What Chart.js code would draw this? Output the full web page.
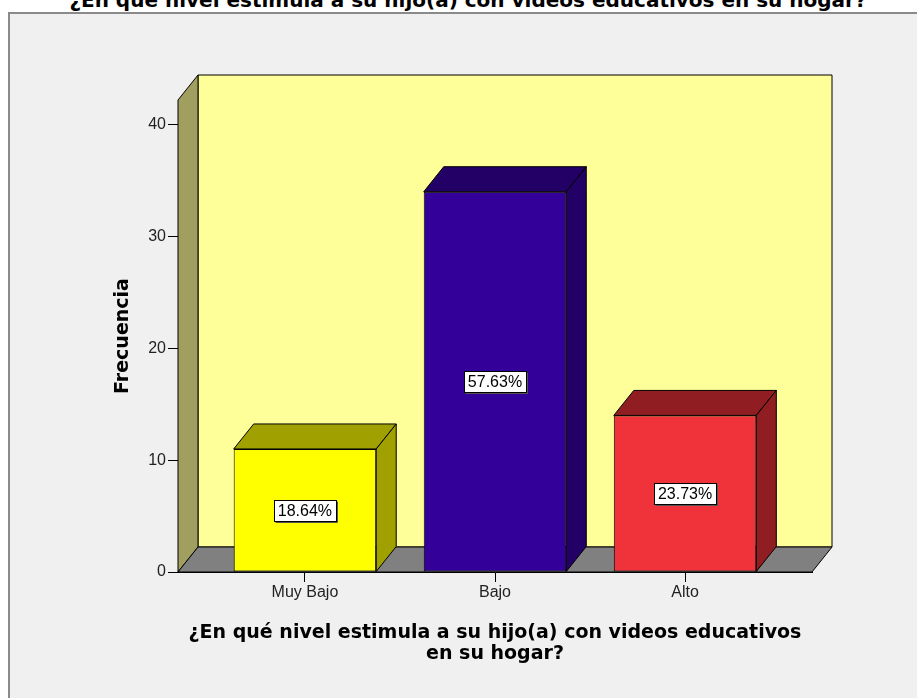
<!DOCTYPE html>
<html>
<head>
<meta charset="utf-8">
<script src="https://cdn.jsdelivr.net/npm/chart.js@4.4.1/dist/chart.umd.min.js"></script>
<style>
  body { margin: 0; background: #fff; overflow: hidden; }
  #frame { position: absolute; left: 8px; top: 12px; width: 1000px; height: 800px;
           border: 2px solid #8a8a8a; background: #f0f0f0; }
  #topTitle { position: absolute; left: 0; width: 936px; top: -10px; text-align: center;
              font: bold 20px "DejaVu Sans"; line-height: 20px; white-space: nowrap; color: #000; }
  #wrap { position: absolute; left: 0; top: 0; width: 917px; height: 698px; }
</style>
</head>
<body>
<div id="frame"></div>
<div id="topTitle">¿En qué nivel estimula a su hijo(a) con videos educativos en su hogar?</div>
<div id="wrap"><canvas id="chart" width="917" height="698"></canvas></div>
<script>
// values
const categories = ["Muy Bajo", "Bajo", "Alto"];
const frecuencia = [11, 34, 14];
const porcentajes = ["18.64%", "57.63%", "23.73%"];
const yTicks = [0, 10, 20, 30, 40];

// colours
const frontColors = ["#ffff00", "#330099", "#f0323a"];
const shadeColors = ["#a0a000", "#220066", "#8f1d21"];

// depth of the fake 3D box
const DX = 20, DY = -25;

function poly(ctx, pts, fill) {
  ctx.beginPath();
  ctx.moveTo(pts[0][0], pts[0][1]);
  for (let i = 1; i < pts.length; i++) ctx.lineTo(pts[i][0], pts[i][1]);
  ctx.closePath();
  ctx.fillStyle = fill;
  ctx.fill();
  ctx.strokeStyle = "#000";
  ctx.lineWidth = 1;
  ctx.stroke();
}

const box3d = {
  id: "box3d",
  beforeDatasetsDraw(chart) {
    const ctx = chart.ctx, a = chart.chartArea;
    const y0 = chart.scales.y.getPixelForValue(0);
    const top = a.top;
    ctx.save();
    // back wall
    poly(ctx, [[a.left + DX, top + DY], [a.right + DX, top + DY], [a.right + DX, y0 + DY], [a.left + DX, y0 + DY]], "#ffff99");
    // left wall
    poly(ctx, [[a.left, y0], [a.left, top], [a.left + DX, top + DY], [a.left + DX, y0 + DY]], "#a09f60");
    // floor
    poly(ctx, [[a.left, y0], [a.left + DX, y0 + DY], [a.right + DX, y0 + DY], [a.right, y0]], "#808080");
    ctx.restore();
  },
  afterDatasetsDraw(chart) {
    const ctx = chart.ctx;
    const meta = chart.getDatasetMeta(0);
    ctx.save();
    meta.data.forEach((bar, i) => {
      const p = bar.getProps(["x", "y", "base", "width"], true);
      const l = p.x - p.width / 2, r = p.x + p.width / 2;
      // top face
      poly(ctx, [[l, p.y], [l + DX, p.y + DY], [r + DX, p.y + DY], [r, p.y]], shadeColors[i]);
      // side face
      poly(ctx, [[r, p.y], [r + DX, p.y + DY], [r + DX, p.base + DY], [r, p.base]], shadeColors[i]);
      // percentage label
      ctx.font = "16px 'Liberation Sans'";
      const tw = ctx.measureText(porcentajes[i]).width;
      const bw = Math.round(tw + 8), bh = 21;
      const cx = p.x, cy = (p.y + p.base) / 2;
      const bx = Math.round(cx - bw / 2) + 0.5, by = Math.round(cy - bh / 2) + 0.5;
      ctx.fillStyle = "#fff";
      ctx.fillRect(bx, by, bw, bh);
      ctx.strokeStyle = "#000";
      ctx.lineWidth = 1;
      ctx.strokeRect(bx, by, bw, bh);
      ctx.strokeStyle = "#555";
      ctx.beginPath();
      ctx.moveTo(bx + 1, by + bh + 1);
      ctx.lineTo(bx + bw + 1, by + bh + 1);
      ctx.lineTo(bx + bw + 1, by + 1);
      ctx.stroke();
      ctx.fillStyle = "#000";
      ctx.textAlign = "center";
      ctx.textBaseline = "middle";
      ctx.fillText(porcentajes[i], cx, cy + 1);
    });
    ctx.restore();
  }
};

new Chart(document.getElementById("chart"), {
  type: "bar",
  data: {
    datasets: [{
      label: "Frecuencia",
      data: frecuencia.map((v, i) => ({ x: i, y: v })),
      backgroundColor: frontColors,
      borderColor: "#000",
      borderWidth: 1,
      borderSkipped: false,
      categoryPercentage: 1,
      barPercentage: 0.75
    }]
  },
  options: {
    responsive: false,
    animation: false,
    devicePixelRatio: 1,
    layout: { padding: { left: 0, top: 100, right: 105, bottom: 0 } },
    plugins: { legend: { display: false }, tooltip: { enabled: false } },
    scales: {
      x: {
        type: "linear",
        position: "bottom",
        offset: false,
        min: -0.668,
        max: 2.668,
        afterBuildTicks: s => { s.ticks = categories.map((c, i) => ({ value: i })); },
        afterFit: s => { s.height = 126; },
        ticks: {
          callback: v => categories[v],
          color: "#222",
          font: { family: "Liberation Sans", size: 16 },
          padding: 1,
          maxRotation: 0
        },
        grid: { offset: false, drawOnChartArea: false, drawTicks: true, tickLength: 10, color: "#000" },
        border: { display: true, color: "#000" },
        title: {
          display: true,
          text: ["¿En qué nivel estimula a su hijo(a) con videos educativos", "en su hogar?"],
          color: "#000",
          font: { family: "DejaVu Sans", size: 19, weight: "bold", lineHeight: 1.12 },
          padding: { top: 0, bottom: 33 }
        }
      },
      y: {
        min: 0,
        max: 42.2,
        afterBuildTicks: s => { s.ticks = yTicks.map(v => ({ value: v })); },
        afterFit: s => { s.width = 178; },
        ticks: {
          color: "#222",
          font: { family: "Liberation Sans", size: 16 },
          padding: 2
        },
        grid: { drawOnChartArea: false, drawTicks: true, tickLength: 10, color: "#000" },
        border: { display: true, color: "#000" },
        title: {
          display: true,
          text: "Frecuencia",
          color: "#000",
          font: { family: "DejaVu Sans", size: 19, weight: "bold", lineHeight: 1.2 },
          padding: { top: 112, bottom: 0 }
        }
      }
    }
  },
  plugins: [box3d]
});
</script>
</body>
</html>
